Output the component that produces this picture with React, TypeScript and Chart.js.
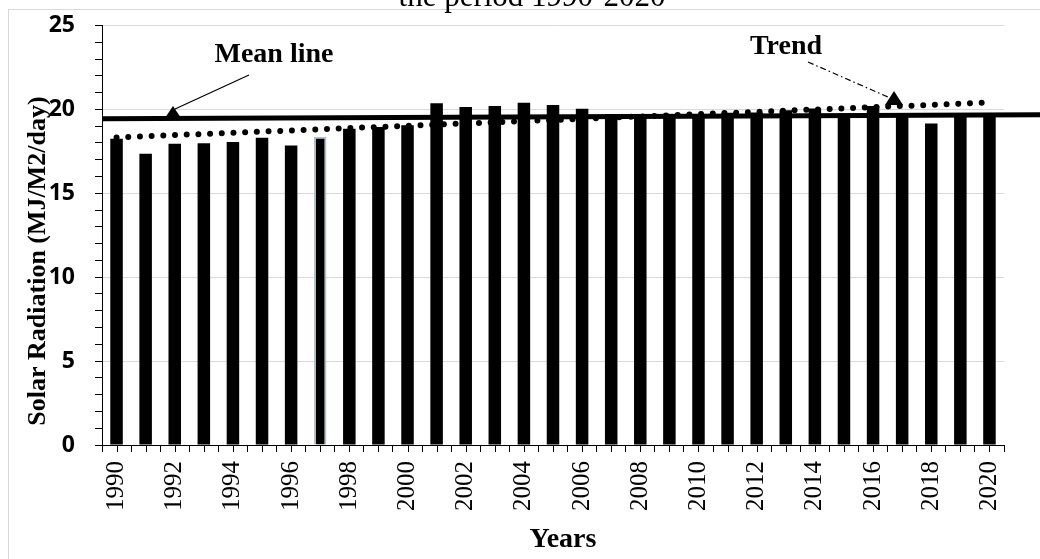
import React, { useEffect, useRef } from "react";
import { Chart, registerables } from "chart.js";

Chart.register(...registerables);

const years = [
  "1990", "1991", "1992", "1993", "1994", "1995", "1996", "1997", "1998", "1999",
  "2000", "2001", "2002", "2003", "2004", "2005", "2006", "2007", "2008", "2009",
  "2010", "2011", "2012", "2013", "2014", "2015", "2016", "2017", "2018", "2019", "2020",
];

const radiation = [
  18.25, 17.35, 17.95, 17.99, 18.05, 18.31, 17.85, 18.37, 18.85, 18.95,
  19.05, 20.37, 20.14, 20.2, 20.39, 20.26, 20.04, 19.72, 19.7, 19.68,
  19.7, 19.8, 19.82, 19.95, 20.05, 19.75, 20.2, 19.7, 19.16, 19.7, 19.7,
];

// Linear trend: value at first year and at last year
const trendEnds = [18.33, 20.41];
// Mean line (drawn shape, slightly tilted): value at left axis and at right edge
const meanLineEnds = [19.45, 19.68];

const yTicksLabelled = [0, 5, 10, 15, 20, 25];

const titleText = "the period 1990-2020";
const yAxisTitle = "Solar Radiation (MJ/M2/day)";
const xAxisTitle = "Years";
const meanLabel = "Mean line";
const trendLabel = "Trend";

const trendData = years.map((_, i) =>
  i === 0 ? trendEnds[0] : i === years.length - 1 ? trendEnds[1] : null
);

const serif = '"Liberation Serif", "Times New Roman", serif';

const decorPlugin = {
  id: "decor",
  beforeDraw(chart: any) {
    const ctx = chart.ctx;
    ctx.save();
    ctx.fillStyle = "#ffffff";
    ctx.fillRect(0, 0, chart.width, chart.height);
    ctx.strokeStyle = "#d9d9d9";
    ctx.lineWidth = 1;
    ctx.strokeRect(8.5, 9.5, chart.width + 20, chart.height + 20);
    // partially visible title
    ctx.fillStyle = "#000";
    ctx.font = `31px ${serif}`;
    ctx.textAlign = "center";
    ctx.textBaseline = "alphabetic";
    ctx.fillText(titleText, 532, 6);
    ctx.restore();
  },
  afterDatasetsDraw(chart: any) {
    const ctx = chart.ctx;
    const ys = chart.scales.y;
    const area = chart.chartArea;
    ctx.save();
    // mean line
    ctx.strokeStyle = "#000";
    ctx.lineWidth = 5;
    ctx.beginPath();
    ctx.moveTo(area.left, ys.getPixelForValue(meanLineEnds[0]));
    ctx.lineTo(chart.width, ys.getPixelForValue(meanLineEnds[1]));
    ctx.stroke();

    // mean arrow
    ctx.lineWidth = 1.2;
    ctx.beginPath();
    ctx.moveTo(249, 75);
    ctx.lineTo(175, 109);
    ctx.stroke();
    ctx.fillStyle = "#000";
    ctx.beginPath();
    ctx.moveTo(173, 106);
    ctx.lineTo(165, 118);
    ctx.lineTo(181, 118);
    ctx.closePath();
    ctx.fill();

    // trend arrow (dash-dot)
    ctx.lineWidth = 1.2;
    ctx.setLineDash([6, 3, 1.5, 3]);
    ctx.beginPath();
    ctx.moveTo(808, 62);
    ctx.lineTo(888, 97);
    ctx.stroke();
    ctx.setLineDash([]);
    ctx.beginPath();
    ctx.moveTo(894, 91);
    ctx.lineTo(885, 105);
    ctx.lineTo(903, 105);
    ctx.closePath();
    ctx.fill();
    ctx.restore();
  },
  afterDraw(chart: any) {
    const ctx = chart.ctx;
    const xs = chart.scales.x;
    const area = chart.chartArea;
    ctx.save();
    // tick marks at category centres
    ctx.strokeStyle = "#000";
    ctx.lineWidth = 1;
    ctx.beginPath();
    for (let i = 0; i < years.length; i++) {
      const px = Math.round(xs.getPixelForValue(i)) + 0.5;
      ctx.moveTo(px, area.bottom);
      ctx.lineTo(px, area.bottom + 7);
    }
    ctx.stroke();

    ctx.fillStyle = "#000";
    ctx.textAlign = "center";
    ctx.textBaseline = "middle";
    ctx.font = `bold 28px ${serif}`;
    ctx.fillText(meanLabel, 274, 55);
    ctx.fillText(trendLabel, 786, 47);
    ctx.fillText(xAxisTitle, 563, 540);

    ctx.save();
    ctx.translate(38, 261);
    ctx.rotate(-Math.PI / 2);
    ctx.font = `bold 26px ${serif}`;
    ctx.fillText(yAxisTitle, 0, 0);
    ctx.restore();
    ctx.restore();
  },
};

export default function App() {
  const canvasRef = useRef<HTMLCanvasElement | null>(null);

  useEffect(() => {
    if (!canvasRef.current) return;
    const chart = new Chart(canvasRef.current, {
      type: "bar",
      data: {
        labels: years,
        datasets: [
          {
            type: "line",
            label: "Trend",
            data: trendData,
            spanGaps: true,
            borderColor: "#000",
            borderWidth: 6,
            borderDash: [0, 11.7],
            borderCapStyle: "round",
            pointRadius: 0,
            fill: false,
            order: 0,
          } as any,
          {
            type: "bar",
            label: "Solar Radiation",
            data: radiation,
            backgroundColor: "#000",
            borderColor: (c: any) => (c.dataIndex === 7 ? "#b3bfd1" : "#000"),
            borderWidth: (c: any) => (c.dataIndex === 7 ? 2 : 0),
            barPercentage: 0.43,
            categoryPercentage: 1,
            order: 1,
          } as any,
        ],
      },
      options: {
        responsive: false,
        animation: false,
        devicePixelRatio: 1,
        layout: { padding: { left: 0, right: 36, top: 25.5, bottom: 0 } },
        plugins: {
          legend: { display: false },
          tooltip: { enabled: false },
          title: { display: false },
        },
        scales: {
          x: {
            type: "category",
            offset: true,
            grid: {
              offset: true,
              drawOnChartArea: false,
              drawTicks: true,
              tickLength: 7,
              tickColor: "#000",
            },
            border: { display: true, color: "#000", width: 1 },
            ticks: {
              autoSkip: false,
              maxRotation: 90,
              minRotation: 90,
              padding: 9,
              color: "#000",
              font: { family: serif, size: 25 },
              callback: (_v: any, i: number) =>
                parseInt(years[i], 10) % 2 === 0 ? years[i] : "",
            },
            afterFit: (s: any) => {
              s.height = 114;
              s.paddingLeft = 0;
              s.paddingRight = 0;
            },
          },
          y: {
            type: "linear",
            min: 0,
            max: 25,
            grid: {
              color: (c: any) =>
                yTicksLabelled.includes(c.tick.value) ? "#d9d9d9" : "rgba(0,0,0,0)",
              lineWidth: 1,
              tickLength: 7,
              tickColor: "#000",
            },
            border: { display: true, color: "#000", width: 1 },
            ticks: {
              stepSize: 1,
              autoSkip: false,
              padding: 20,
              color: "#000",
              font: { family: '"Open Sans", sans-serif', size: 23, weight: "bold" },
              callback: (v: any) => (yTicksLabelled.includes(v) ? String(v) : ""),
            },
            afterFit: (s: any) => {
              s.width = 102;
              s.paddingTop = 0;
              s.paddingBottom = 0;
            },
          },
        },
      } as any,
      plugins: [decorPlugin],
    });
    return () => chart.destroy();
  }, []);

  return (
    <div style={{ position: "fixed", left: 0, top: 0, width: 1040, height: 559 }}>
      <canvas
        ref={canvasRef}
        width={1040}
        height={559}
        style={{ display: "block", width: 1040, height: 559 }}
      />
    </div>
  );
}
